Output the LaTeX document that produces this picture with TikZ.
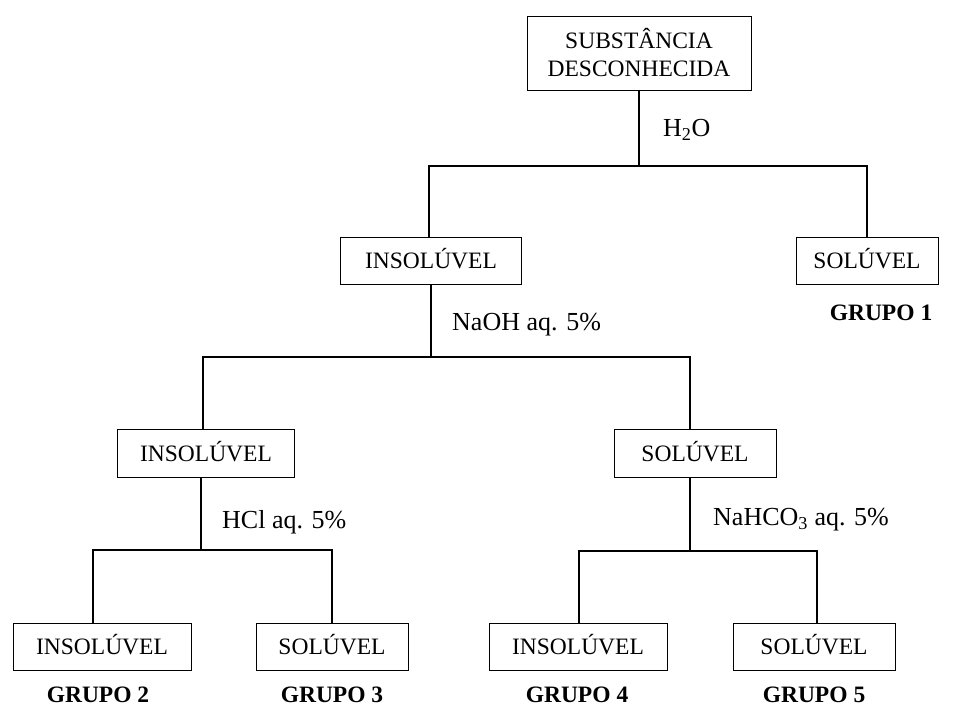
\documentclass[tikz,border=0pt]{standalone}
\usepackage{fontspec}
\setmainfont{Liberation Serif}
\usetikzlibrary{positioning}

\tikzset{
  caixa/.style={draw, line width=1pt, rectangle, inner sep=0pt, minimum height=47pt,
    text height=16pt, text depth=0pt, font=\fontsize{23.5}{28}\selectfont},
  reag/.style={anchor=west, inner sep=0pt, font=\fontsize{26}{30}\selectfont},
  grupo/.style={inner sep=0pt, font=\fontsize{23.5}{28}\selectfont\bfseries},
  liga/.style={line width=1.6pt},
}

\begin{document}
\begin{tikzpicture}[x=1pt, y=-1pt]
    \useasboundingbox (0,0) rectangle (957,707);

    % Unknown substance
    \node[caixa, align=center, minimum width=224pt, minimum height=74pt, text height=, text depth=]
        (top) at (639,53) {SUBSTÂNCIA\\DESCONHECIDA};

    % Water test
    \node[caixa, minimum width=181pt] (ins2) at (431,260.5) {INSOLÚVEL};
    \node[caixa, minimum width=142pt] (sol2) at (867,260.5) {SOLÚVEL};
    \node[grupo] (g1) at (881,313) {GRUPO 1};
    \coordinate (b1l) at (429,166);
    \coordinate (b1r) at (867,166);
    \draw[liga] (top.south) -- (top.south |- b1l);
    \draw[liga] (b1l |- ins2.north) -- (b1l) -- (b1r) -- (b1r |- sol2.north);
    \node[reag] (agua) at (663,130) {H\textsubscript{2}O};

    % NaOH test
    \node[caixa, minimum width=177pt, minimum height=48pt] (ins3) at (206,453) {INSOLÚVEL};
    \node[caixa, minimum width=162pt, minimum height=48pt] (sol3) at (695,453) {SOLÚVEL};
    \coordinate (b2l) at (203,357);
    \coordinate (b2r) at (690,357);
    \draw[liga] (ins2.south) -- (ins2.south |- b2l);
    \draw[liga] (b2l |- ins3.north) -- (b2l) -- (b2r) -- (b2r |- sol3.north);
    \node[reag] (naoh) at (452,325) {NaOH aq. 5\%};

    % HCl test
    \node[caixa, minimum width=178pt] (ins4a) at (102,646.5) {INSOLÚVEL};
    \node[caixa, minimum width=152pt] (sol4a) at (332,646.5) {SOLÚVEL};
    \node[grupo] (g2) at (98,695) {GRUPO 2};
    \node[grupo] (g3) at (332,695) {GRUPO 3};
    \coordinate (b3l) at (93,550);
    \coordinate (b3r) at (332,550);
    \coordinate (b3m) at (201,550);
    \draw[liga] (b3m |- ins3.south) -- (b3m);
    \draw[liga] (b3l |- ins4a.north) -- (b3l) -- (b3r) -- (b3r |- sol4a.north);
    \node[reag] (hcl) at (222,522) {HCl aq. 5\%};

    % NaHCO3 test
    \node[caixa, minimum width=178pt] (ins4b) at (578,646.5) {INSOLÚVEL};
    \node[caixa, minimum width=162pt] (sol4b) at (814,646.5) {SOLÚVEL};
    \node[grupo] (g4) at (577,695) {GRUPO 4};
    \node[grupo] (g5) at (814,695) {GRUPO 5};
    \coordinate (b4l) at (579,551);
    \coordinate (b4r) at (817,551);
    \draw[liga] (sol3.south -| b2r) -- (b2r |- b4l);
    \draw[liga] (b4l |- ins4b.north) -- (b4l) -- (b4r) -- (b4r |- sol4b.north);
    \node[reag] (nahco) at (713,520) {NaHCO\textsubscript{3} aq. 5\%};
\end{tikzpicture}
\end{document}
